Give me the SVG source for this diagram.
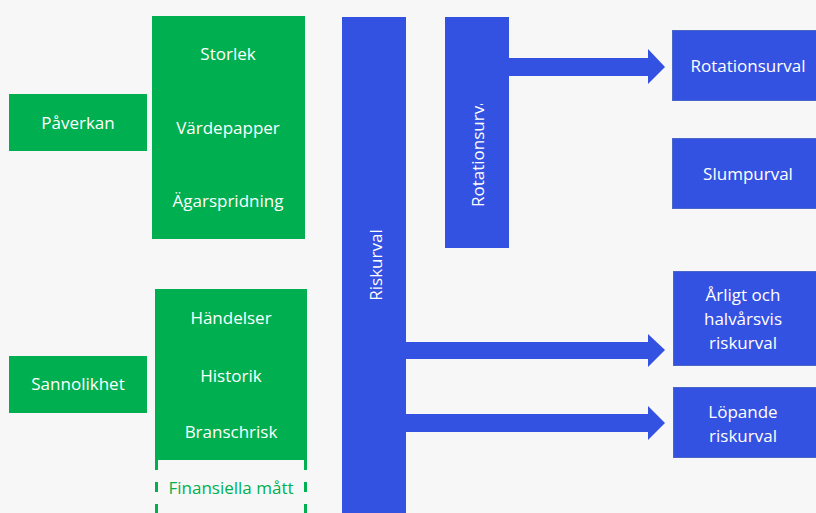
<svg xmlns="http://www.w3.org/2000/svg" width="816" height="513" viewBox="0 0 816 513">
<defs>
<style>
.g{fill:#00b050}
.b{fill:#3452e1}
.bb{fill:#3452e1;stroke:#4a67c8;stroke-width:1}
.t{font-family:"Open Sans","Liberation Sans",sans-serif;font-size:17px;fill:#ffffff;text-anchor:middle;dominant-baseline:central}
.tg{font-family:"Open Sans","Liberation Sans",sans-serif;font-size:17px;fill:#00b050;text-anchor:middle;dominant-baseline:central}
.dash{stroke:#00b050;stroke-width:3;stroke-dasharray:10 12;fill:none}
</style>
<clipPath id="rc"><rect x="445" y="104" width="64" height="144"/></clipPath>
</defs>
<rect width="816" height="513" fill="#f7f7f7"/>

<g id="paverkan"><rect class="g" x="9" y="94" width="138" height="57"/><text class="t" x="78" y="122">Påverkan</text></g>
<g id="storlek"><rect class="g" x="152" y="16" width="153" height="77"/><text class="t" x="228" y="53">Storlek</text></g>
<g id="vardepapper"><rect class="g" x="152" y="92" width="153" height="72"/><text class="t" x="228" y="127">Värdepapper</text></g>
<g id="agarspridning"><rect class="g" x="152" y="163" width="153" height="76"/><text class="t" x="228" y="200">Ägarspridning</text></g>

<g id="sannolikhet"><rect class="g" x="9" y="356" width="138" height="57"/><text class="t" x="78" y="383">Sannolikhet</text></g>
<g id="handelser"><rect class="g" x="155" y="289" width="152" height="58"/><text class="t" x="231" y="317">Händelser</text></g>
<g id="historik"><rect class="g" x="155" y="346" width="152" height="58"/><text class="t" x="231" y="375">Historik</text></g>
<g id="branschrisk"><rect class="g" x="155" y="403" width="152" height="57"/><text class="t" x="231" y="431">Branschrisk</text></g>
<g id="finansiella"><line class="dash" x1="156.5" y1="460" x2="156.5" y2="513"/><line class="dash" x1="305.5" y1="460" x2="305.5" y2="513"/><text class="tg" x="231" y="487">Finansiella mått</text></g>

<g id="riskurval"><rect class="b" x="342" y="17" width="64" height="496"/><text class="t" transform="translate(375 265) rotate(-90)" x="0" y="0">Riskurval</text></g>
<g id="rotationsurval-bar"><rect class="b" x="445" y="17" width="64" height="231"/><g clip-path="url(#rc)"><text class="t" transform="translate(477 207) rotate(-90)" x="0" y="0" style="text-anchor:start">Rotationsurval</text></g></g>

<g id="connectors">
<polygon class="b" points="509,58 648,58 648,49 665,67 648,84 648,76 509,76"/>
<polygon class="b" points="406,342 648,342 648,334 665,350 648,367 648,359 406,359"/>
<polygon class="b" points="406,414 648,414 648,406 665,423 648,440 648,432 406,432"/>
</g>

<g id="rotationsurval"><rect class="bb" x="672.5" y="30.5" width="150" height="70"/><text class="t" x="748" y="65">Rotationsurval</text></g>
<g id="slumpurval"><rect class="bb" x="672.5" y="138.5" width="150" height="70"/><text class="t" x="748" y="173">Slumpurval</text></g>
<g id="arligt"><rect class="bb" x="673.5" y="271.5" width="150" height="94"/><text class="t" x="743" y="294">Årligt och</text><text class="t" x="743" y="318">halvårsvis</text><text class="t" x="743" y="342">riskurval</text></g>
<g id="lopande"><rect class="bb" x="673.5" y="387.5" width="150" height="70"/><text class="t" x="743" y="411">Löpande</text><text class="t" x="743" y="435">riskurval</text></g>
</svg>
